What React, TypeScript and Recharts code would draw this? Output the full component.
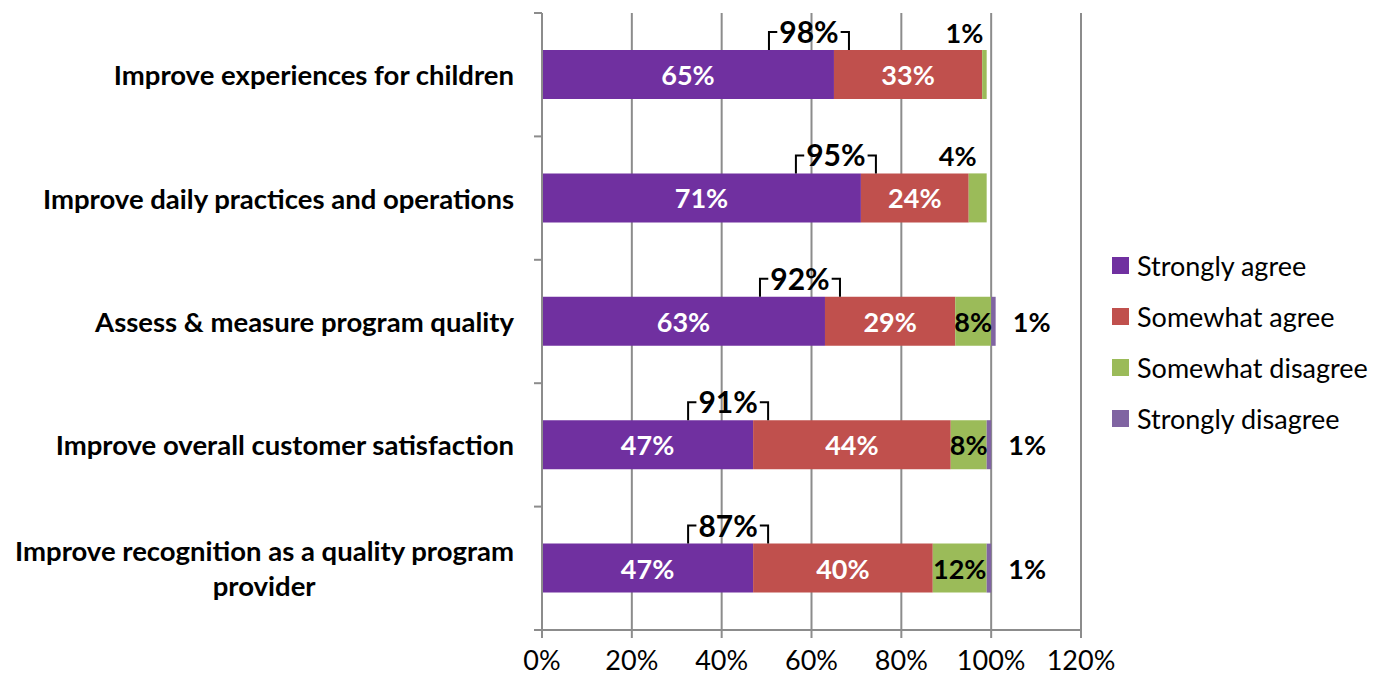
import React from "react";
import { BarChart, Bar, XAxis, YAxis, CartesianGrid, Legend, LabelList } from "recharts";

const categories = [
  "Improve experiences for children",
  "Improve daily practices and operations",
  "Assess & measure program quality",
  "Improve overall customer satisfaction",
  "Improve recognition as a quality program provider",
];
const seriesNames = ["Strongly agree", "Somewhat agree", "Somewhat disagree", "Strongly disagree"];
const stronglyAgree = [65, 71, 63, 47, 47];
const somewhatAgree = [33, 24, 29, 44, 40];
const somewhatDisagree = [1, 4, 8, 8, 12];
const stronglyDisagree = [0, 0, 1, 1, 1];
const xTicks = [0, 20, 40, 60, 80, 100, 120];

const chartData = categories.map((name, i) => ({
  name,
  stronglyAgree: stronglyAgree[i],
  somewhatAgree: somewhatAgree[i],
  somewhatDisagree: somewhatDisagree[i],
  stronglyDisagree: stronglyDisagree[i],
}));

const W = 1386;
const H = 679;
const LEFT = 542;
const TOP = 13;
const RIGHT = 1081;
const BOTTOM = 630;
const BAND = (BOTTOM - TOP) / categories.length;
const FONT = "Lato, 'Open Sans', sans-serif";
const GRID = "#8c8c8c";
const CAT_SIZE = 27.5;

const pct = (v: any) => `${v}%`;

// canvas text measuring, used to wrap and place the category labels
let ctx: CanvasRenderingContext2D | null = null;
const measure = (text: string, font: string) => {
  if (!ctx) ctx = document.createElement("canvas").getContext("2d");
  if (!ctx) return text.length * 13;
  ctx.font = font;
  return ctx.measureText(text).width;
};

const wrap = (text: string, maxW: number, font: string) => {
  const words = text.split(" ");
  const lines: string[] = [];
  let cur = "";
  words.forEach((w) => {
    const next = cur ? cur + " " + w : w;
    if (measure(next, font) > maxW && cur) {
      lines.push(cur);
      cur = w;
    } else cur = next;
  });
  if (cur) lines.push(cur);
  return lines;
};

const CategoryTick = (props: any) => {
  const { y, payload, index } = props;
  const font = `bold ${CAT_SIZE}px Lato`;
  const lines = wrap(payload.value, 510, font);
  const endX = LEFT - 28;
  const lineH = 35;
  const startY = y - ((lines.length - 1) * lineH) / 2;
  const w0 = measure(lines[0], font);
  return (
    <g>
      {lines.map((l, i) => (
        <text
          key={i}
          x={i > 0 ? endX - w0 / 2 : endX}
          y={startY + i * lineH}
          textAnchor={i > 0 ? "middle" : "end"}
          dominantBaseline="central"
          fontFamily={FONT}
          fontWeight="bold"
          fontSize={CAT_SIZE}
          fill="#000"
        >
          {l}
        </text>
      ))}
      <line x1={LEFT - 8} x2={LEFT} y1={y - BAND / 2} y2={y - BAND / 2} stroke={GRID} strokeWidth={2} />
      {index === categories.length - 1 && (
        <line x1={LEFT - 8} x2={LEFT} y1={y + BAND / 2} y2={y + BAND / 2} stroke={GRID} strokeWidth={2} />
      )}
    </g>
  );
};

// bracketed total of the two "agree" answers, above the bar
const BracketLabel = (props: any) => {
  const { x, y, width, index } = props;
  const total = stronglyAgree[index] + somewhatAgree[index];
  const text = `${total}%`;
  const cx = x + width - 25;
  const half = 40;
  const top = y - 18;
  const tw = measure(text, "bold 30px Lato");
  return (
    <g stroke="#000" strokeWidth={2} fill="none">
      <polyline points={`${cx - half},${y} ${cx - half},${top} ${cx - tw / 2 - 2},${top}`} />
      <polyline points={`${cx + tw / 2 + 2},${top} ${cx + half},${top} ${cx + half},${y}`} />
      <text x={cx} y={y - 7} textAnchor="middle" stroke="none" fill="#000" fontFamily={FONT} fontWeight="bold" fontSize={30}>
        {text}
      </text>
    </g>
  );
};

const InsideLabel = (props: any) => {
  const { x, y, width, height, value } = props;
  return (
    <text
      x={x + width / 2}
      y={y + height / 2}
      textAnchor="middle"
      dominantBaseline="central"
      fill="#fff"
      fontFamily={FONT}
      fontWeight="bold"
      fontSize={27}
    >
      {pct(value)}
    </text>
  );
};

const DisagreeLabel = (props: any) => {
  const { x, y, width, height, value } = props;
  const big = width > 25;
  return (
    <text
      x={big ? x + width / 2 : x + width / 2 - 20}
      y={big ? y + height / 2 : y - 18}
      textAnchor="middle"
      dominantBaseline="central"
      fill="#000"
      fontFamily={FONT}
      fontWeight="bold"
      fontSize={27}
    >
      {pct(value)}
    </text>
  );
};

const OuterLabel = (props: any) => {
  const { x, y, width, height, value } = props;
  return (
    <text
      x={x + width + 36}
      y={y + height / 2}
      textAnchor="middle"
      dominantBaseline="central"
      fill="#000"
      fontFamily={FONT}
      fontWeight="bold"
      fontSize={27}
    >
      {pct(value)}
    </text>
  );
};

const LegendContent = (props: any) => {
  const items = [...(props.payload || [])].sort(
    (a: any, b: any) => seriesNames.indexOf(a.value) - seriesNames.indexOf(b.value)
  );
  return (
    <div style={{ fontFamily: FONT, fontSize: 27, color: "#000" }}>
      {items.map((p: any) => (
        <div key={p.value} style={{ display: "flex", alignItems: "center", height: 51 }}>
          <span style={{ display: "inline-block", width: 17, height: 17, background: p.color, marginRight: 8 }} />
          {p.value}
        </div>
      ))}
    </div>
  );
};

export default function App() {
  return (
    <div style={{ position: "absolute", left: 0, top: 0, background: "#fff" }}>
      <BarChart
        width={W}
        height={H}
        data={chartData}
        layout="vertical"
        margin={{ top: TOP, right: W - RIGHT, bottom: 0, left: 0 }}
      >
        <CartesianGrid horizontal={false} stroke={GRID} strokeWidth={2} />
        <XAxis
          type="number"
          domain={[0, 120]}
          ticks={xTicks}
          tickFormatter={pct}
          height={H - BOTTOM}
          axisLine={{ stroke: GRID, strokeWidth: 2 }}
          tickLine={{ stroke: GRID, strokeWidth: 2 }}
          tickSize={8}
          tickMargin={13}
          tick={{ fill: "#000", fontSize: 27, fontFamily: FONT }}
          interval={0}
        />
        <YAxis
          type="category"
          dataKey="name"
          width={LEFT}
          axisLine={{ stroke: GRID, strokeWidth: 2 }}
          tickLine={false}
          tick={<CategoryTick />}
          interval={0}
        />
        <Legend
          layout="vertical"
          align="center"
          verticalAlign="middle"
          content={<LegendContent />}
          wrapperStyle={{ left: 1112, top: 240, width: 274 }}
        />
        <Bar dataKey="stronglyAgree" name="Strongly agree" stackId="a" fill="#7030A0" barSize={49} isAnimationActive={false}>
          <LabelList dataKey="stronglyAgree" content={<InsideLabel />} />
          <LabelList dataKey="stronglyAgree" content={<BracketLabel />} />
        </Bar>
        <Bar dataKey="somewhatAgree" name="Somewhat agree" stackId="a" fill="#C0504D" barSize={49} isAnimationActive={false}>
          <LabelList dataKey="somewhatAgree" content={<InsideLabel />} />
        </Bar>
        <Bar dataKey="somewhatDisagree" name="Somewhat disagree" stackId="a" fill="#9BBB59" barSize={49} isAnimationActive={false}>
          <LabelList dataKey="somewhatDisagree" content={<DisagreeLabel />} />
        </Bar>
        <Bar dataKey="stronglyDisagree" name="Strongly disagree" stackId="a" fill="#8064A2" barSize={49} isAnimationActive={false}>
          <LabelList dataKey="stronglyDisagree" content={<OuterLabel />} />
        </Bar>
      </BarChart>
    </div>
  );
}
